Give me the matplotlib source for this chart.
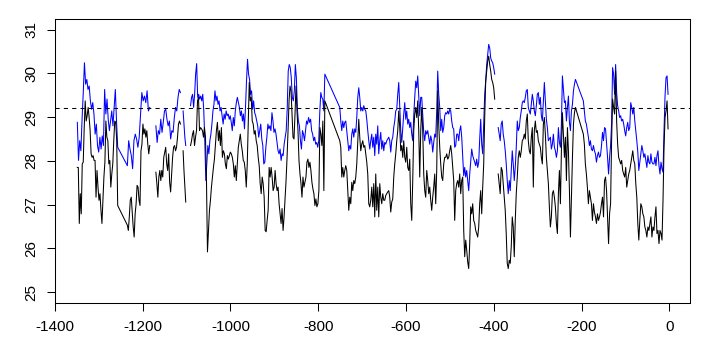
import numpy as np
import matplotlib
matplotlib.use("Agg")
import matplotlib.pyplot as plt

plt.rcParams["font.family"] = ["Liberation Sans", "DejaVu Sans"]
plt.rcParams["axes.unicode_minus"] = False

run_years = [(-1349, -1257), (-1235, -1184), (-1170, -1114), (-1108, -1102),
             (-1091, -785), (-751, -398), (-390, -214), (-196, -3)]
# True = run is drawn joined to the previous one, False = gap in the record
joined = [False, True, False, False, False, True, False, True]

threshold = 29.2

blue_1 = [28.88, 28.01, 28.46, 28.23, 28.95, 29.56, 30.24, 29.75, 29.86, 29.63, 29.71, 29.37,
          29.18, 29.33, 29.07, 28.61, 28.84, 28.35, 28.20, 28.54, 28.27, 28.57, 28.35, 29.63,
          29.07, 29.41, 28.95, 28.69, 28.91, 29.14, 28.80, 29.22, 29.63, 28.91, 28.31]
blue_2 = [27.89, 28.46, 28.27, 28.12, 27.82, 28.46, 28.61, 28.50, 28.31, 28.54, 29.03, 29.56,
          29.37, 29.48, 29.33, 29.60, 29.14, 29.22]
blue_3 = [28.80, 28.42, 28.69, 28.61, 28.95, 28.65, 28.88, 29.14, 29.18, 28.95, 28.80, 28.91,
          28.50, 28.69, 28.65, 28.99, 29.22, 29.14, 29.45, 29.63, 29.56]
blue_4 = [29.14, 28.84, 28.54, 28.35]
blue_5 = [29.26, 29.45, 29.52, 29.22, 29.52, 29.98, 30.22, 29.45, 29.52, 29.41, 29.48, 29.37,
          29.52, 29.14, 28.46, 27.55, 27.97, 28.35, 28.16, 28.46, 28.61, 28.84, 29.14, 29.29,
          29.60, 29.37, 29.48, 29.29, 29.37, 29.14, 29.22, 29.03, 28.84, 29.07, 28.95, 29.14,
          29.03, 29.07, 28.95, 29.03, 28.88, 28.69, 28.99, 28.80, 29.14, 29.33, 29.45, 29.33,
          29.22, 29.03, 29.14, 28.91, 29.07, 28.73, 29.22, 29.82, 30.32, 29.98, 29.86, 29.52,
          29.60, 29.18, 29.37, 29.10, 29.03, 28.91, 28.80, 28.54, 28.69, 28.84, 28.50, 28.35,
          27.93, 27.97, 28.31, 28.54, 28.84, 28.73, 28.80, 28.69, 29.10, 28.91, 28.65, 28.73,
          28.61, 28.42, 28.23, 28.16, 28.27, 28.01, 28.16, 28.12, 28.38, 28.54, 28.69, 29.18,
          30.05, 30.20, 30.13, 29.90, 29.45, 29.37, 29.60, 30.20, 29.90, 29.18, 28.91, 28.80,
          28.46, 28.27, 28.69, 28.61, 28.46, 28.69, 28.91, 28.84, 28.99, 28.88, 28.95, 28.69,
          28.61, 28.46, 28.54, 28.38, 28.42, 28.31, 28.46, 29.10, 29.56, 29.45, 29.41, 29.14,
          29.98]
blue_6 = [29.22, 28.91, 28.69, 28.91, 28.76, 28.88, 28.91, 28.69, 28.46, 28.23, 28.35, 28.27,
          28.61, 28.73, 28.54, 28.73, 28.65, 28.99, 29.45, 29.67, 29.45, 29.14, 29.22, 29.14,
          29.26, 29.18, 29.14, 28.95, 28.69, 28.46, 28.27, 28.46, 28.61, 28.31, 28.54, 28.12,
          28.61, 28.38, 28.80, 28.16, 28.46, 28.65, 28.27, 28.46, 28.23,
          28.42, 28.38, 28.46, 28.50, 28.54, 28.46, 28.20, 28.46, 28.54, 28.76, 28.91, 29.14,
          29.18, 29.52, 29.79, 29.26, 28.69, 28.42, 28.76, 29.07, 29.33, 28.95, 29.14, 28.84,
          28.95, 28.76, 28.88, 28.61, 28.46, 29.03, 29.45, 29.82, 29.67, 29.94, 29.48, 29.03,
          29.45, 29.45, 29.07, 28.65, 28.46, 28.69, 28.61, 28.69, 28.54, 28.38, 28.57, 28.46,
          28.20, 28.42, 28.61, 28.54, 29.14, 30.05, 29.52, 29.22, 28.69, 28.95, 28.65, 28.76,
          29.03, 29.10, 29.07, 29.14, 29.07, 29.18, 29.14, 28.91, 28.76, 28.73, 28.31, 28.35,
          28.61, 28.61, 28.46, 28.69, 28.80, 28.54, 28.12, 27.66, 27.85, 27.63, 27.78, 27.55,
          27.32, 27.70, 27.97, 28.27, 28.12, 28.04, 27.97, 27.89, 28.04, 27.85, 27.97, 28.50,
          28.95, 28.38, 28.16, 28.84, 29.52, 29.82, 30.20, 30.43, 30.66,
          30.58, 30.35, 30.28, 30.24, 30.13, 29.98]
blue_7 = [28.76, 28.61, 28.46, 28.84, 28.91, 28.61, 28.46, 28.23, 27.93, 27.55, 27.25, 27.55,
          27.32, 27.78, 28.23, 27.93, 27.55, 27.85, 28.31, 28.91, 28.69, 28.76, 28.99, 29.14,
          29.33, 29.37, 29.33, 29.45, 29.60, 29.63, 29.22, 29.14, 29.07, 29.29, 29.52, 29.37,
          29.14, 29.03, 29.26, 29.52, 29.56, 29.29, 29.45, 29.03, 28.91, 29.37, 29.79, 29.37,
          28.95, 28.76, 28.46, 28.50, 28.54, 28.27, 28.38, 28.61, 28.31, 28.23, 28.08, 28.23,
          28.76, 28.42, 28.31, 28.84, 29.94, 29.63, 29.33, 29.37, 28.91, 29.22, 29.48, 28.88,
          28.69, 29.14, 29.29, 29.60, 29.75, 29.86]
blue_8 = [29.37, 29.14, 28.91, 28.84, 28.69, 28.54, 28.35, 28.46, 28.27, 28.23, 28.35,
          28.23, 28.16, 27.97, 28.12, 28.20, 28.08, 28.12, 28.35, 28.65, 28.46, 28.76, 28.73,
          28.42, 28.08, 27.70, 28.08, 28.35, 28.84, 30.13, 29.98, 29.52, 30.20, 29.56, 29.26,
          29.14, 28.99, 29.03, 28.91, 28.95, 28.84, 28.69, 28.57, 28.76, 28.88, 28.69, 28.76,
          29.33, 29.22, 29.07, 29.22, 28.91, 28.69, 28.46, 28.20, 27.78, 27.97, 28.16, 28.35,
          28.23, 28.08, 28.16, 28.01, 27.85, 28.12, 27.97, 27.93, 28.16, 27.97, 27.93, 27.93,
          28.08, 27.89, 28.12, 28.23, 27.89, 27.70, 27.97, 27.82, 27.74, 28.69, 29.48, 29.90,
          29.94, 29.52]

black_1 = [27.85, 27.85, 26.57, 27.25, 26.79, 27.93, 27.97, 28.76, 29.37, 28.91, 29.03, 29.22,
           28.99, 28.69, 28.16, 28.08, 28.12, 28.01, 28.01, 27.17, 27.78, 27.40, 27.10, 27.25,
           26.87, 26.57, 27.10, 27.63, 27.97, 28.91, 28.54, 28.46, 27.93, 28.01, 27.40, 27.70,
           27.93, 28.46, 28.91, 28.88, 28.46, 26.98]
black_2 = [26.53, 26.41, 26.72, 27.10, 27.17, 26.83, 26.49, 26.26, 26.79, 27.02, 27.44, 27.40,
           27.10, 26.98, 28.23, 28.38, 28.84, 28.61, 28.73, 28.54, 28.69, 28.38, 28.16, 28.35]
black_3 = [27.74, 27.48, 27.17, 27.63, 27.78, 27.55, 27.78, 27.63, 28.08, 28.20, 28.31, 27.93,
           27.78, 28.16, 27.51, 27.29, 27.70, 28.08, 28.31, 28.35, 28.23, 28.31, 28.54, 28.84,
           28.91, 28.84]
black_4 = [28.23, 27.78, 27.40, 27.06]
black_5 = [28.35, 28.46, 28.61, 28.69, 28.35, 28.54, 28.69, 29.37, 29.45, 28.69, 28.76, 28.73,
           28.69, 28.54, 28.76, 28.54, 27.55, 25.92, 26.41, 26.87, 27.10, 27.40, 27.63, 27.85,
           28.04, 28.38, 28.69, 28.88, 28.46, 28.69, 28.35, 28.76, 28.08, 28.23, 28.16, 27.93,
           27.82, 28.12, 28.04, 28.12, 28.20, 28.16, 28.08, 27.93, 27.63, 27.89, 27.55, 27.93,
           28.31, 28.46, 28.61, 28.38, 28.23, 28.01, 27.97, 27.78, 27.40, 27.93, 28.91, 29.79,
           29.37, 29.45, 28.91, 28.84, 28.61, 28.69, 28.46, 28.35, 28.08, 27.89, 27.48, 27.25,
           27.63, 27.48, 27.17, 26.41, 26.38, 26.64, 26.87, 27.85, 27.63, 27.85, 27.63, 27.32,
           27.40, 27.78, 27.48, 27.32, 27.40, 27.02,
           26.79, 26.57, 26.91, 26.41, 26.72, 27.13, 27.55, 28.08, 28.69, 29.37, 29.71, 29.60,
           29.07, 28.54, 28.50, 29.07, 29.71, 29.14, 28.69, 28.01, 27.70, 27.48, 27.17, 27.63,
           27.40, 27.51, 27.63, 27.97, 28.04, 27.85, 27.97, 27.78, 27.51, 27.36, 27.25, 26.98,
           27.13, 26.95, 27.02, 27.32, 28.76, 28.61, 28.35, 28.91, 27.32, 29.37]
black_6 = [28.46, 28.31, 27.63, 27.85, 27.63, 27.78, 27.89, 27.78, 27.32, 26.87, 27.17, 27.02,
           27.51, 27.32, 27.55, 27.48, 27.63, 27.93, 28.46, 28.95, 28.54, 28.23, 28.38, 28.46,
           28.31, 28.35, 28.16, 27.97, 27.70, 27.02, 26.95, 27.10, 27.40, 26.95, 27.48, 26.72,
           27.70, 26.87, 27.40, 26.72, 27.48, 27.17, 27.02, 27.25, 27.10,
           27.10, 27.21, 27.25, 27.29, 27.32, 27.17, 26.83, 27.06, 27.13, 27.63, 27.93, 28.16,
           28.46, 28.69, 29.14, 28.76, 28.23, 28.35, 28.08, 28.46, 28.08, 27.97, 28.31, 27.85,
           27.78, 28.04, 27.02, 26.64, 27.55, 28.69, 29.07, 29.22, 28.99, 29.37, 28.69, 27.63,
           28.69, 29.22, 28.69, 27.70, 27.32, 27.17, 27.78, 27.55, 27.25, 27.40, 27.10, 26.87,
           27.17, 27.40, 27.70, 27.02, 27.78, 29.60, 28.84, 28.31, 27.93, 27.63, 27.55, 27.93,
           28.08, 28.08, 28.16, 28.04, 28.08, 28.23, 28.35, 28.16, 27.85, 27.55, 26.64, 27.32,
           27.48, 27.55, 27.40, 27.70, 27.25, 27.55, 27.63, 26.41, 25.81, 26.19, 25.96, 25.69,
           25.54, 26.11, 26.95, 26.79, 27.02, 26.64, 26.57, 26.41, 26.34, 26.26, 26.49, 27.02,
           27.32, 26.79, 27.40, 27.93, 28.99, 29.82, 30.05, 30.28, 30.39,
           30.20, 30.05, 29.86, 29.79, 29.67, 29.41]
black_7 = [27.70, 27.48, 27.25, 27.85, 27.78, 27.48, 27.17, 26.87, 26.34, 25.66, 25.54, 25.73,
           25.66, 26.04, 26.72, 26.49, 25.81, 26.64, 27.25, 27.63, 28.08, 28.23, 28.08, 28.23,
           28.46, 28.50, 28.61, 28.50, 28.91, 29.07, 28.46, 28.23, 28.16, 28.54, 28.76, 27.40,
           28.69, 28.91, 28.65, 28.69, 28.46, 28.38, 28.31, 28.08, 27.93, 28.84, 28.99, 28.61,
           28.08, 27.78, 27.48, 26.95, 26.49, 26.72, 27.25, 27.32, 27.17, 26.95, 26.57, 26.34,
           27.25, 27.78, 27.02, 28.23, 29.10, 28.61, 28.08, 28.54, 27.55, 28.76, 28.23, 27.32,
           26.26, 27.17, 28.08, 28.84, 29.10, 29.22]
black_8 = [28.61, 28.38, 27.93, 27.70, 27.40, 27.02, 27.32, 27.17, 27.02, 26.64, 27.02,
           26.83, 26.72, 26.57, 26.79, 26.64, 26.72, 26.83, 27.02, 27.17, 26.72, 27.55, 27.63,
           27.32, 26.72, 26.11, 26.79, 27.02, 28.46, 29.41, 29.22, 29.07, 30.05, 28.91, 28.38,
           28.08, 28.01, 27.93, 28.01, 27.78, 27.70, 27.63, 27.85, 27.40, 27.55, 27.70, 27.78,
           27.93, 28.08, 28.23, 28.01, 27.93, 27.48, 27.17, 26.57, 26.19, 26.64, 27.02, 26.95,
           26.79, 26.72, 26.49, 26.41, 26.26, 26.49, 26.41, 26.57, 26.72, 26.26, 26.49, 26.41,
           26.72, 26.95, 26.34, 26.41, 26.11, 26.41, 26.34, 26.19, 27.10, 28.31, 28.99, 29.14,
           29.37, 28.73]

blue_runs = [blue_1, blue_2, blue_3, blue_4, blue_5, blue_6, blue_7, blue_8]
black_runs = [black_1, black_2, black_3, black_4, black_5, black_6, black_7, black_8]


def build(runs):
    xs, ys = [], []
    for (start, end), vals, join in zip(run_years, runs, joined):
        if xs and not join:
            xs.append(np.nan)
            ys.append(np.nan)
        xs.extend(np.linspace(start, end, len(vals)))
        ys.extend(vals)
    return np.array(xs), np.array(ys)


def main() -> None:
    blue_x, blue_y = build(blue_runs)
    black_x, black_y = build(black_runs)

    fig = plt.figure(figsize=(7.09, 3.55), dpi=100)
    ax = fig.add_axes([54.5 / 709, 1 - 302.7 / 355, (690 - 54.5) / 709, (302.7 - 19) / 355])

    ax.plot(blue_x, blue_y, color="#0000ff", linewidth=0.75)
    ax.plot(black_x, black_y, color="black", linewidth=0.75)
    ax.axhline(threshold, color="black", linewidth=0.75, dashes=(4, 4))

    ax.set_xlim(-1401, 47)
    ax.set_ylim(24.76, 31.24)
    ax.set_xticks(np.arange(-1400, 1, 200))
    ax.set_yticks(np.arange(25, 32, 1))

    for spine in ax.spines.values():
        spine.set_linewidth(0.75)
        spine.set_color("black")
    ax.tick_params(direction="out", length=5.5, width=0.75, labelsize=11, color="black")
    ax.tick_params(axis="x", pad=7)
    ax.tick_params(axis="y", pad=6)
    plt.setp(ax.get_yticklabels(), rotation=90, va="center")

    fig.savefig("out.png", dpi=100)


if __name__ == "__main__":
    main()
